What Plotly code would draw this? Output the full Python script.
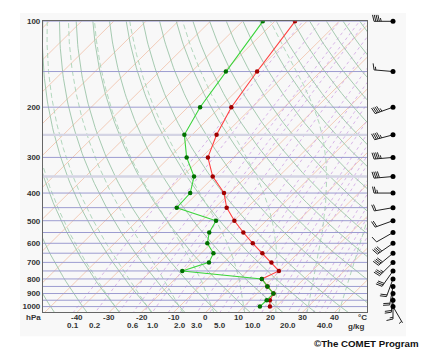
import numpy as np
import plotly.graph_objects as go

W, H = 428, 352

# ---------------- data ----------------
pressure = [100, 150, 200, 250, 300, 350, 400, 450, 500, 550, 600, 650, 700, 750, 800, 850, 900, 950, 1000]
temperature = [-63.7, -59.7, -56.5, -52.4, -48.0, -40.5, -31.8, -26.4, -19.9, -13.4, -7.1, -1.0, 4.7, 9.7,
               6.9, 11.0, 15.1, 16.1, 18.1]
dewpoint = [-73.7, -69.4, -66.2, -62.4, -54.6, -46.3, -42.3, -41.9, -25.6, -24.0, -21.2, -16.2, -14.7, -20.3,
            6.9, 11.0, 15.1, 15.1, 15.0]

wind_dir = [270, 275, 250, 255, 265, 265, 270, 260, 250, 240, 235, 230, 225, 215, 200, 190, 185, 180, 150]
wind_speed = [45, 15, 45, 45, 45, 40, 25, 20, 20, 10, 40, 40, 35, 30, 20, 20, 20, 15, 5]

pressure_ticks = [100, 200, 300, 400, 500, 600, 700, 800, 900, 1000]
temp_ticks = [-40, -30, -20, -10, 0, 10, 20, 30, 40]
mixing_ratio_labels = [0.1, 0.2, 0.6, 1.0, 2.0, 3.0, 5.0, 10.0, 20.0, 40.0]
mixing_ratio_lines = [0.1, 0.2, 0.4, 0.6, 0.8, 1.0, 1.5, 2.0, 3.0, 4.0, 5.0, 6.0, 8.0, 10.0, 12.0, 14.0,
                      16.0, 20.0, 24.0, 28.0, 32.0, 36.0, 40.0]
highlight_isobars = [250, 350]
isobar_levels = [p for p in [100] + list(range(150, 1001, 50)) if p not in highlight_isobars]
isotherm_levels = list(range(-160, 60, 10))
dry_adiabat_levels = list(range(-60, 190, 10))  # theta, degC
moist_adiabat_levels = [-30, -20, -10, 0, 10, 20, 30, 40]  # start T at 1000 hPa, degC

# ---------------- geometry ----------------
P_BOT, P_TOP = 1046.0, 100.0
SKEW = 89.6            # degC of x-shift per decade of pressure
X_RANGE = [-50.6, 50.0]
PL, PR, PT, PB = 43, 367, 17.5, 311.7   # plot box in pixels
k = (np.log10(P_BOT) - 2) / (PB - PT)   # decades per pixel


def skew_x(T, p):
    return np.asarray(T, float) + SKEW * np.log10(P_BOT / np.asarray(p, float))


def es(Tc):
    return 6.112 * np.exp(17.67 * Tc / (Tc + 243.5))


def td_from_w(w, p):
    e = w * p / (622.0 + w)
    l = np.log(e / 6.112)
    return 243.5 * l / (17.67 - l)


fig = go.Figure()

# light grey backdrop
fig.add_shape(type="rect", xref="paper", yref="paper", x0=20 / W, x1=406 / W, y0=1 - 336 / H, y1=1 - 9 / H,
              fillcolor="#f8f8f8", line_width=0, layer="below")

p_line = np.logspace(np.log10(P_TOP) - 0.01, np.log10(P_BOT) + 0.01, 80)

# isotherms
xs, ys = [], []
for t in isotherm_levels:
    xs += list(skew_x([t, t], [P_TOP * 0.98, P_BOT * 1.02])) + [None]
    ys += [P_TOP * 0.98, P_BOT * 1.02, None]
fig.add_trace(go.Scatter(x=xs, y=ys, mode="lines", line=dict(color="#f0c0a8", width=0.8), hoverinfo="skip"))

# mixing ratio lines
xs, ys = [], []
for w in mixing_ratio_lines:
    td = td_from_w(w, p_line)
    xs += list(skew_x(td, p_line)) + [None]
    ys += list(p_line) + [None]
fig.add_trace(go.Scatter(x=xs, y=ys, mode="lines", line=dict(color="#cfa3e3", width=0.8, dash="3px,3px"),
                         hoverinfo="skip"))

# dry adiabats
xs, ys = [], []
for th in dry_adiabat_levels:
    T = (th + 273.15) * (p_line / 1000.0) ** 0.2857 - 273.15
    xs += list(skew_x(T, p_line)) + [None]
    ys += list(p_line) + [None]
fig.add_trace(go.Scatter(x=xs, y=ys, mode="lines", line=dict(color="#9cc4a8", width=0.9), hoverinfo="skip"))


# moist adiabats
def moist(t0):
    Rd, cp, Lv, eps = 287.0, 1004.0, 2.5e6, 0.622
    ps = np.logspace(np.log10(1000), np.log10(P_TOP) - 0.01, 200)
    out = [t0]
    T = t0 + 273.15
    for i in range(1, len(ps)):
        dp = (ps[i] - ps[i - 1]) * 100
        p = ps[i - 1] * 100
        e = es(T - 273.15) * 100
        rs = eps * e / (p - e)
        dTdp = (Rd * T + Lv * rs) / (p * (cp + Lv * Lv * rs * eps / (Rd * T * T)))
        T = T + dTdp * dp
        out.append(T - 273.15)
    T = t0 + 273.15
    p = 1000 * 100
    e = es(t0) * 100
    rs = eps * e / (p - e)
    dTdp = (Rd * T + Lv * rs) / (p * (cp + Lv * Lv * rs * eps / (Rd * T * T)))
    tb = t0 + dTdp * (P_BOT * 1.01 - 1000) * 100
    return np.concatenate([[P_BOT * 1.01], ps]), np.concatenate([[tb], out])


xs, ys = [], []
for t0 in moist_adiabat_levels:
    pp, tt = moist(t0)
    xs += list(skew_x(tt, pp)) + [None]
    ys += list(pp) + [None]
fig.add_trace(go.Scatter(x=xs, y=ys, mode="lines", line=dict(color="#a9d2b6", width=0.9, dash="5px,3px"),
                         hoverinfo="skip"))

# isobars
xs, ys = [], []
for p in highlight_isobars:
    xs += [X_RANGE[0], X_RANGE[1], None]
    ys += [p, p, None]
fig.add_trace(go.Scatter(x=xs, y=ys, mode="lines", line=dict(color="#d4d4e4", width=2.4), hoverinfo="skip"))
xs, ys = [], []
for p in isobar_levels:
    xs += [X_RANGE[0], X_RANGE[1], None]
    ys += [p, p, None]
fig.add_trace(go.Scatter(x=xs, y=ys, mode="lines", line=dict(color="#9c9cd0", width=1), hoverinfo="skip"))

# soundings
fig.add_trace(go.Scatter(x=skew_x(temperature, pressure), y=pressure, mode="lines+markers",
                         line=dict(color="#ff4040", width=1.1),
                         marker=dict(color="#a00000", size=4.5), hoverinfo="skip"))
fig.add_trace(go.Scatter(x=skew_x(dewpoint, pressure), y=pressure, mode="lines+markers",
                         line=dict(color="#3ad43a", width=1.1),
                         marker=dict(color="#007000", size=4.5), hoverinfo="skip"))

# ---------------- wind barbs (overlay axes x2 / y2 in pixel x, log-p y) ----------------
BX = 393
bx, by, fx, fy = [], [], [], []
for p, d, s in zip(pressure, wind_dir, wind_speed):
    r = np.radians(d)
    ux, uy = np.sin(r), np.cos(r)          # towards 'from' direction, y up
    px_, py_ = uy, -ux                      # barb side (clockwise)
    L = 19.0
    lp0 = np.log10(p)

    def pt(dx, dyup):
        return BX + dx, 10 ** (lp0 - dyup * k)

    x1, y1 = pt(ux * L, uy * L)
    bx += [BX, x1, None]
    by += [p, y1, None]
    s5 = int(round(s / 5.0))
    flags, rem = divmod(s5, 10)
    full, half = divmod(rem, 2)
    pos = L
    step = 1.8
    for _ in range(flags):
        a = pt(ux * pos, uy * pos)
        b = pt(ux * (pos - 2.5) + px_ * 7, uy * (pos - 2.5) + py_ * 7)
        c = pt(ux * (pos - 3.5), uy * (pos - 3.5))
        fx += [a[0], b[0], c[0], a[0], None]
        fy += [a[1], b[1], c[1], a[1], None]
        pos -= 4.5
    for _ in range(full):
        a = pt(ux * pos, uy * pos)
        b = pt(ux * (pos + 1.5) + px_ * 6.5, uy * (pos + 1.5) + py_ * 6.5)
        bx += [a[0], b[0], None]
        by += [a[1], b[1], None]
        pos -= step
    for _ in range(half):
        if pos == L:
            pos -= step
        a = pt(ux * pos, uy * pos)
        b = pt(ux * (pos + 0.75) + px_ * 3.3, uy * (pos + 0.75) + py_ * 3.3)
        bx += [a[0], b[0], None]
        by += [a[1], b[1], None]

fig.add_trace(go.Scatter(x=bx, y=by, xaxis="x2", yaxis="y2", mode="lines",
                         line=dict(color="#222222", width=1), hoverinfo="skip"))
if fx:
    fig.add_trace(go.Scatter(x=fx, y=fy, xaxis="x2", yaxis="y2", mode="lines", fill="toself",
                             fillcolor="#222222", line=dict(color="#222222", width=0.6), hoverinfo="skip"))
fig.add_trace(go.Scatter(x=[BX] * len(pressure), y=pressure, xaxis="x2", yaxis="y2", mode="markers",
                         marker=dict(color="black", size=5), hoverinfo="skip"))

# ---------------- annotations ----------------
lab_font = dict(family="Liberation Sans, Arial, sans-serif", size=8, color="#333333")
row1 = np.log10(P_BOT) + 5 * k
row2 = np.log10(P_BOT) + 13.5 * k
ann = []
for t in temp_ticks:
    ann.append(dict(x=t, y=row1, xref="x", yref="y2", text="<b>%d</b>" % t, showarrow=False, font=lab_font))
for w in mixing_ratio_labels:
    xx = skew_x(td_from_w(w, P_BOT), P_BOT)
    ann.append(dict(x=float(xx), y=row2, xref="x", yref="y2",
                    text="<b>%.1f</b>" % w, showarrow=False, font=lab_font))
ann.append(dict(x=33.5, y=row1, xref="x2", yref="y2", text="<b>hPa</b>",
                showarrow=False, font=lab_font))
ann.append(dict(x=362, y=row1, xref="x2", yref="y2", text="<b>°C</b>",
                showarrow=False, font=lab_font))
ann.append(dict(x=356, y=row2 + 1 * k, xref="x2", yref="y2", text="<b>g/kg</b>",
                showarrow=False, font=lab_font))
ann.append(dict(x=366.5, y=np.log10(P_BOT) + 31.5 * k, xref="x2", yref="y2", text="<b>©The COMET Program</b>",
                showarrow=False, font=dict(family="Liberation Sans, Arial, sans-serif", size=9.7, color="#111111")))

fig.update_layout(
    width=W, height=H, margin=dict(l=0, r=0, t=0, b=0),
    paper_bgcolor="white", plot_bgcolor="rgba(0,0,0,0)", showlegend=False,
    xaxis=dict(domain=[PL / W, PR / W], range=X_RANGE, showgrid=False, zeroline=False,
               showticklabels=False, ticks="",
               showline=True, linecolor="#666666", linewidth=1.2, mirror=True),
    yaxis=dict(domain=[1 - PB / H, 1 - PT / H], type="log", range=[np.log10(P_BOT), 2],
               showgrid=False, zeroline=False, tickvals=pressure_ticks,
               ticktext=["<b>%d</b>" % p for p in pressure_ticks], ticks="", tickfont=lab_font,
               showline=True, linecolor="#666666", linewidth=1.2, mirror=True),
    xaxis2=dict(domain=[0, 1], range=[0, W], visible=False, anchor="y2"),
    yaxis2=dict(domain=[0, 1], type="log", range=[np.log10(P_BOT) + (H - PB) * k, 2 - PT * k],
                visible=False, anchor="x2"),
    annotations=ann,
)

fig.write_html("out.html")
